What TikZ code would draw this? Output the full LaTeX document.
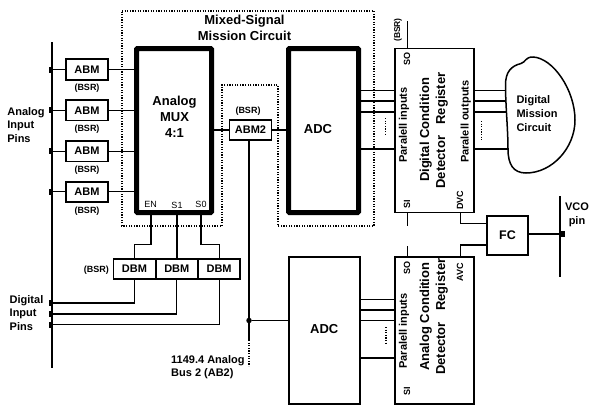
\documentclass[tikz,border=0pt]{standalone}
\usepackage{fontspec}
\setmainfont{Liberation Sans}
\newcommand{\lblfont}[2]{\bfseries\fontsize{#1}{#2}\selectfont}
\tikzset{
  pinbar/.style={line width=1.7pt},
  wire/.style={line width=1.1pt},
  dotline/.style={line width=1.2pt,dash pattern=on 1.2pt off 1.4pt},
  pinmark/.style={draw=none,fill=black,minimum width=3.5pt,minimum height=6pt,inner sep=0pt},
  bmod/.style={draw,line width=1.7pt,fill=white,inner sep=0pt,minimum width=42pt,minimum height=20.5pt,font=\lblfont{11}{13}},
  heavybox/.style={draw,line width=5pt,rounded corners=1pt,inner sep=0pt,font=\lblfont{13}{16},align=center},
  regbox/.style={draw,line width=1.4pt,inner sep=0pt,minimum width=79pt},
  lbl/.style={inner sep=0pt,font=\lblfont{11}{13.3},align=left},
  bsrlbl/.style={inner sep=0pt,font=\lblfont{9}{11}},
  portlbl/.style={inner sep=0pt,font=\fontsize{9}{11}\selectfont},
  vlbl/.style={inner sep=0pt,rotate=90,font=\lblfont{11}{13}},
  vbig/.style={inner sep=0pt,rotate=90,font=\lblfont{13}{16}},
  vport/.style={inner sep=0pt,rotate=90,font=\lblfont{9}{11}},
}
\begin{document}
\begin{tikzpicture}[x=1pt,y=-1pt,node distance=40.8pt]
    \useasboundingbox (0,0) rectangle (589,405);

    \draw[dotline] (122,11) -- (374,11) -- (374,226) -- (278,226) -- (278,85) -- (222,85) -- (222,226) -- (122,226) -- cycle;
    \node[lbl,font=\lblfont{13}{16},align=center] (titlelbl) at (244.5,28) {Mixed-Signal\\Mission Circuit};

    \coordinate (bustop) at (52,42);
    \coordinate (busbot) at (52,368);
    \draw[pinbar] (bustop) -- (busbot);

    \node[heavybox,minimum width=75pt,minimum height=164pt] (mux) at (174,130.5) {};
    \node[heavybox,minimum width=70pt,minimum height=164pt] (adca) at (323.5,130.5) {};
    \node[lbl,font=\lblfont{13}{16},align=center] (muxlbl) at (174.5,117) {Analog\\MUX\\4:1};
    \node[lbl,font=\lblfont{13}{16}] (adcalbl) at (318,129) {ADC};
    \node[portlbl] (enlbl) at (150.5,204) {EN};
    \node[portlbl] (s1lbl) at (177,205) {S1};
    \node[portlbl] (s0lbl) at (201,204) {S0};

    \node[bmod] (abm1) at (87,69.5) {ABM};
    \node[bmod] (abm2) [below of=abm1] {ABM};
    \node[bmod] (abm3) [below of=abm2] {ABM};
    \node[bmod] (abm4) [below of=abm3] {ABM};
    \foreach \n in {1,2,3,4} {
        \node[bsrlbl] (bsr\n) at ([yshift=-19pt]abm\n.center) {(BSR)};
        \node[pinmark] (pin\n) at (abm\n.center -| bustop) [xshift=-1.5pt] {};
        \draw[wire] (pin\n) -- (abm\n);
        \draw[wire] (abm\n) -- (abm\n -| mux.west);
    }
    \node[lbl] (anlbl) at (26,125) {Analog\\Input\\Pins};

    \node[bmod] (abmb) at (250.5,130) {ABM2};
    \node[bsrlbl] (bsrb) at (248,111) {(BSR)};
    \draw[wire] (mux.east |- abmb) -- (abmb);
    \draw[wire] (abmb) -- (abmb -| adca.west);

    \node[bmod,minimum width=42.3pt] (dbm1) at (134.5,269) {DBM};
    \node[bmod,minimum width=42.3pt] (dbm2) [right of=dbm1,node distance=42.3pt] {DBM};
    \node[bmod,minimum width=42.3pt] (dbm3) [right of=dbm2,node distance=42.3pt] {DBM};
    \node[bsrlbl,anchor=east] (bsrd) at (109,270) {(BSR)};
    \coordinate (tapa) at (151,215);
    \coordinate (tapb) at (177,215);
    \coordinate (tapc) at (201,215);
    \draw[wire] (tapa) -- (151,244.5) -| (dbm1.north);
    \draw[wire] (tapb) -- (dbm2.north -| tapb);
    \draw[wire] (tapc) -- (201,244.5) -| (dbm3.north);
    \node[pinmark] (pin5) at (50.5,303) {};
    \node[pinmark] (pin6) at (50.5,314) {};
    \node[pinmark] (pin7) at (50.5,324.5) {};
    \draw[wire] (dbm1.south) |- (pin5);
    \draw[wire] (dbm2.south) |- (pin6);
    \draw[wire] (dbm3.south) |- (pin7);
    \node[lbl] (dilbl) at (26.5,313) {Digital\\Input\\Pins};

    \node[draw,line width=1.4pt,inner sep=0pt,minimum width=71pt,minimum height=147pt] (adcb) at (324.5,330.5) {};
    \node[lbl,font=\lblfont{13}{16}] (adcblbl) at (324.3,329) {ADC};
    \node[circle,fill=black,inner sep=0pt,minimum size=5.5pt] (junc) at (249,320.5) {};
    \coordinate (abstop) at (249,141);
    \coordinate (absend) at (249,340);
    \coordinate (absdot) at (249,366);
    \draw[wire] (abstop) -- (absend);
    \draw[dotline] (absend) -- (absdot);
    \draw[wire] (junc) -- (junc -| adcb.west);
    \node[lbl,anchor=west] (ablbl) at (171,367) {1149.4 Analog\\Bus 2 (AB2)};

    \node[regbox,minimum height=164.5pt] (dcdr) at (434.5,130.5) {};
    \node[regbox,minimum height=147pt] (acdr) at (434.5,330.5) {};
    \foreach \yy in {90.5,101,112,149} {
        \draw[wire] (adca.east |- 0,\yy) -- (dcdr.west |- 0,\yy);
    }
    \foreach \yy in {299.5,310,320.5,358} {
        \draw[wire] (adcb.east |- 0,\yy) -- (acdr.west |- 0,\yy);
    }
    \node[vport] (sotop) at (407,59) {SO};
    \node[vport] (sitop) at (407,204) {SI};
    \node[vport] (dvc) at (460,200) {DVC};
    \node[vlbl] (pintop) at (404,125) {Paralell inputs};
    \node[vbig] (dcdlbl) at (425.7,130) {Digital Condition};
    \node[vbig] (regtop) at (441.7,130.5) {Detector\hspace{.6em} Register};
    \node[vlbl] (pouttop) at (465.7,121.7) {Paralell outputs};
    \node[vport] (sobot) at (407,267.7) {SO};
    \node[vport] (avc) at (460,272) {AVC};
    \node[vlbl] (pinbot) at (404,331) {Paralell inputs};
    \node[vbig] (acdlbl) at (425.7,316.7) {Analog Condition};
    \node[vbig] (regbot) at (441.7,316.7) {Detector\hspace{.6em} Register};
    \node[vport] (sibot) at (407,391) {SI};
    \node[vport,font=\lblfont{8.5}{10}] (bsrso) at (398,30) {(BSR)};

    \coordinate (soend) at (407.7,21);
    \coordinate (sistub) at (407.7,226);
    \coordinate (sostub) at (407.7,246);
    \draw[wire] (soend) -- (soend |- dcdr.north);
    \draw[wire] (sistub |- dcdr.south) -- (sistub);
    \draw[wire] (sostub) -- (sostub |- acdr.north);

    \draw[line width=1.5pt] (505.5,85) .. controls (505.5,72) and (511,66) .. (521,63.5)
        .. controls (526,62) and (525,57) .. (533,57)
        .. controls (553,58) and (575,90) .. (575,120)
        .. controls (575,148) and (552,173) .. (526,173)
        .. controls (513,173) and (508,164) .. (508,149)
        .. controls (508,130) and (505.5,105) .. (505.5,85) -- cycle;
    \coordinate (blobo1) at (505.5,90.5);
    \coordinate (blobo2) at (506,101);
    \coordinate (blobo3) at (506.5,112);
    \coordinate (blobo4) at (508,149);
    \foreach \n in {1,2,3,4} {
        \draw[wire] (dcdr.east |- blobo\n) -- (blobo\n);
    }
    \node[lbl,font=\lblfont{11}{14}] (dmclbl) at (537,114) {Digital\\Mission\\Circuit};

    \draw[dotline] (385.7,118) -- (385.7,136);
    \draw[dotline] (481.7,121) -- (481.7,140);
    \draw[dotline] (386,327) -- (386,345);

    \node[draw,line width=1.7pt,inner sep=0pt,minimum width=40.5pt,minimum height=39pt,font=\lblfont{12.5}{15}] (fc) at (507.5,235.5) {FC};
    \coordinate (vcotop) at (560,196);
    \coordinate (vcobot) at (560,277);
    \draw[pinbar] (vcotop) -- (vcobot);
    \node[pinmark] (vcopin) at (563,234) {};
    \draw[wire] (fc.east |- vcopin) -- (vcopin);
    \draw[wire] (460.7,212.7) |- (fc.west |- 0,223.5);
    \draw[wire] (460.7,257) |- (fc.west |- 0,245);
    \node[lbl,align=center,font=\lblfont{11}{14}] (vcolbl) at (577,215) {VCO\\pin};
\end{tikzpicture}
\end{document}
